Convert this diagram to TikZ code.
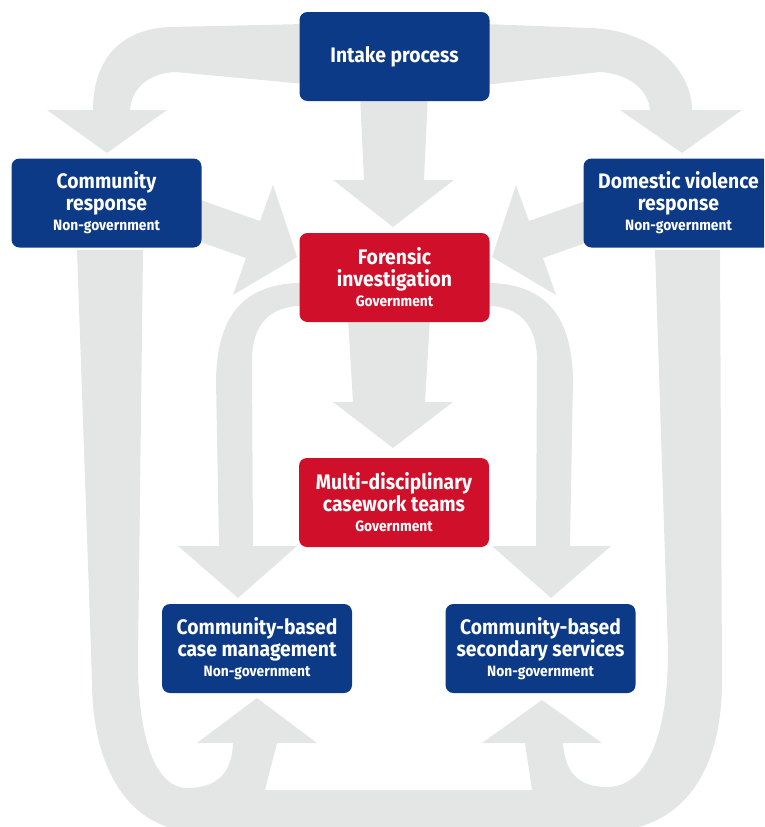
\documentclass[tikz,border=0pt]{standalone}
\usepackage{fontspec}
\setmainfont{Fira Sans}[FakeStretch=0.92]
\definecolor{navy}{RGB}{12,58,134}
\definecolor{govred}{RGB}{208,16,42}
\definecolor{flowgray}{RGB}{228,229,229}
\newcommand{\mainsize}{\fontsize{21}{22}\selectfont}
\newcommand{\orgtype}[1]{{\fontsize{15}{17}\selectfont #1}}
\begin{document}
\begin{tikzpicture}[x=1pt,y=-1pt,
  flow/.style={fill=flowgray,draw=none},
  box/.style={rectangle,rounded corners=8pt,minimum width=190pt,minimum height=89pt,
    inner sep=0pt,text=white,align=center,font=\bfseries\mainsize},
  ngo/.style={box,fill=navy},
  gov/.style={box,fill=govred}]
\useasboundingbox (0,0) rectangle (764,827);
\clip (0,0) rectangle (764,827);

% intake -> forensic
\fill[flow] (360,95) -- (428,95) -- (424,180) -- (454,180) -- (393,227)
  -- (333,180) -- (364,180) -- cycle;
% intake -> community response
\fill[flow] (305,24) -- (170,27) .. controls (120,29) and (93,60) .. (93,110)
  -- (47,110) -- (107,153) -- (167,110) -- (130,110)
  .. controls (132,90) and (145,74) .. (175,72) -- (305,84) -- cycle;
% intake -> domestic violence response
\fill[flow] (484,24) -- (590,28) .. controls (655,30) and (692,72) .. (692,110)
  -- (742,110) -- (682,153) -- (620,110) -- (650,110)
  .. controls (648,90) and (630,74) .. (600,72) -- (484,85) -- cycle;
% community response -> forensic
\fill[flow] (195,198) -- (260,221) -- (273,185) -- (297,257) -- (233,295)
  -- (246,258) -- (195,240) -- cycle;
% domestic violence response -> forensic
\fill[flow] (594,198) -- (529,221) -- (516,185) -- (492,257) -- (556,295)
  -- (543,258) -- (594,240) -- cycle;
% forensic -> casework teams
\fill[flow] (348,318) -- (430,318) -- (425,402) -- (453,402) -- (393,448)
  -- (333,402) -- (353,402) -- cycle;
% forensic -> case management
\fill[flow] (305,283) -- (298,283) .. controls (240,285) and (217,320) .. (216,380)
  -- (219,546) -- (178,546) -- (238,598) -- (297,546) -- (253,546)
  -- (252,360) .. controls (252,330) and (265,308) .. (298,306) -- (305,306) -- cycle;
% forensic -> secondary services
\fill[flow] (484,283) -- (491,283) .. controls (549,285) and (572,320) .. (573,380)
  -- (570,546) -- (611,546) -- (551,598) -- (492,546) -- (536,546)
  -- (537,360) .. controls (537,330) and (524,308) .. (491,306) -- (484,306) -- cycle;
% outer loop: both responses feed the community-based services
\fill[flow] (77,250) -- (143,250) -- (138,660)
  .. controls (138,745) and (158,788) .. (187,788)
  .. controls (214,788) and (232,776) .. (233,743)
  -- (197,743) -- (257,698) -- (317,743) -- (277,743) -- (265,790)
  -- (532,790) -- (525,743) -- (482,743) -- (542,700) -- (602,743) -- (563,743)
  .. controls (565,776) and (582,787) .. (607,787)
  .. controls (645,787) and (668,740) .. (668,650)
  -- (655,250) -- (720,250) -- (722,680)
  .. controls (722,770) and (685,832) .. (600,832)
  -- (200,832)
  .. controls (130,832) and (92,770) .. (92,680)
  -- cycle;

\node[ngo] (intake) at (394.5,56.5) {Intake process};
\node[ngo] (community) at (106.5,203) {Community\\response\\[-2pt]\orgtype{Non-government}};
\node[ngo] (domestic) at (678.5,203) {Domestic violence\\response\\[-2pt]\orgtype{Non-government}};
\node[gov] (forensic) at (394.5,277.5) {Forensic\\investigation\\[-2pt]\orgtype{Government}};
\node[gov] (casework) at (394,502.5) {Multi-disciplinary\\casework teams\\[-2pt]\orgtype{Government}};
\node[ngo] (casemgmt) at (257,648.5) {Community-based\\case management\\[-2pt]\orgtype{Non-government}};
\node[ngo] (secondary) at (540.5,648.5) {Community-based\\secondary services\\[-2pt]\orgtype{Non-government}};
\end{tikzpicture}
\end{document}
